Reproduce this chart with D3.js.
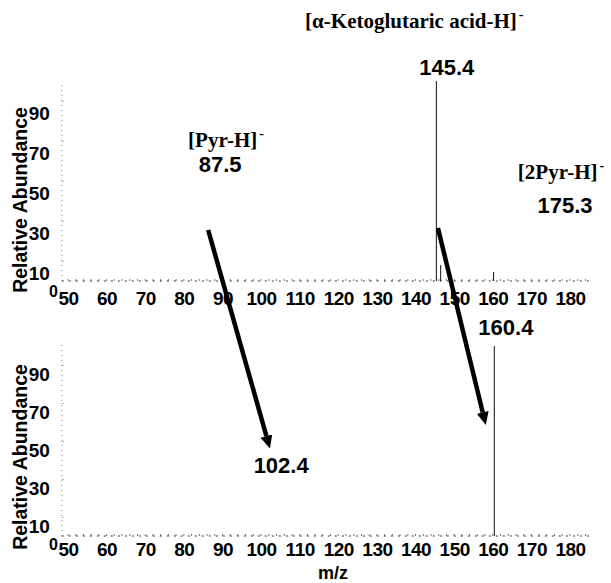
<!DOCTYPE html>
<html><head><meta charset="utf-8">
<script src="https://cdn.jsdelivr.net/npm/d3@7"></script>
<style>body{margin:0;background:#fff}svg{display:block;background:#fff}</style>
</head><body>
<svg id="c" width="611" height="583"></svg>
<script>
// ---- data ----
const xTickValues = [50,60,70,80,90,100,110,120,130,140,150,160,170,180];
const yTickValues = [10,30,50,70,90];
// top spectrum
const topMz        = [145.4, 146.5, 160.2];
const topAbundance = [100,   8,     4.5];
// bottom spectrum
const bottomMz        = [160.4];
const bottomAbundance = [100];
// numeric annotations
const annTexts   = ["145.4", "87.5", "175.3", "102.4", "160.4"];
const annMz      = [148.1,   89.4,   178.7,   105.2,   163.4];
const annAb      = [102.8,   54.5,   34,      33.2,    105.8];
const annPanel   = ["top",   "top",  "top",   "bottom","bottom"];
// ion labels (top panel)
const ionTexts   = ["[α-Ketoglutaric acid-H]", "[Pyr-H]", "[2Pyr-H]"];
const ionMz      = [111.4, 81.1, 166.5];
const ionAb      = [126.5, 67,   51];
// arrows: start in top panel, end in bottom panel
const arrowFromMz = [86.3, 145.8];
const arrowFromAb = [25.5, 26.5];
const arrowToMz   = [102.3, 158.2];
const arrowToAb   = [46, 58.4];

const svg = d3.select("#c");
const sans = "'Liberation Sans', Arial, Helvetica, sans-serif";
const serif = "'Liberation Serif', 'Times New Roman', serif";

const x = d3.scaleLinear().domain([50,180]).range([68,570]);
const xExtent = [48.4, 185.2];

const panels = {
  top:    {y: d3.scaleLinear().domain([0,100]).range([281,81]),  axisTop: 99,  tickDy: 12, xLabelY: 298, zeroDy: 10, titleY: 200, mz: topMz, ab: topAbundance},
  bottom: {y: d3.scaleLinear().domain([0,100]).range([536,346]), axisTop: 102, tickDy: 9,  xLabelY: 549, zeroDy: 8,  titleY: 457, mz: bottomMz, ab: bottomAbundance}
};

Object.values(panels).forEach(p => {
  const y = p.y;
  const g = svg.append("g");
  g.append("line")
    .attr("x1", x(xExtent[0])).attr("x2", x(xExtent[0]))
    .attr("y1", y(0)).attr("y2", y(p.axisTop))
    .attr("stroke", "#888").attr("stroke-width", 1).attr("stroke-dasharray", "1,4");
  const ya = g.append("g").attr("transform", `translate(${x(xExtent[0])},0)`)
    .call(d3.axisLeft(y).tickValues(yTickValues).tickSize(3).tickPadding(9));
  ya.select(".domain").remove();
  ya.selectAll("line").attr("stroke", "#aaa").attr("x2", 2);
  ya.selectAll("text").attr("y", p.tickDy)
    .style("font-family", sans).style("font-weight", "bold").style("font-size", "19px").attr("fill", "#000");
  g.append("text").attr("x", x(xExtent[0]) - 4).attr("y", y(0) + p.zeroDy).attr("dy", "0.35em")
    .attr("text-anchor", "end").style("font-family", sans).style("font-weight", "bold").style("font-size", "16px").text("0");
  g.append("line")
    .attr("x1", x(xExtent[0])).attr("x2", x(xExtent[1]))
    .attr("y1", y(0)).attr("y2", y(0))
    .attr("stroke", "#333").attr("stroke-width", 1).attr("stroke-dasharray", "2,5");
  g.selectAll(".mt").data(d3.range(50, 185, 2)).join("line")
    .attr("x1", d => x(d)).attr("x2", d => x(d))
    .attr("y1", y(0)).attr("y2", y(0) - 2)
    .attr("stroke", "#555").attr("stroke-width", 0.8);
  const xa = g.append("g").attr("transform", `translate(0,${p.xLabelY})`)
    .call(d3.axisBottom(x).tickValues(xTickValues).tickSize(0));
  xa.select(".domain").remove();
  xa.selectAll("text").attr("y", 0).attr("dy", "0.36em")
    .style("font-family", sans).style("font-weight", "bold").style("font-size", "19px")
    .style("letter-spacing", "-0.5px").attr("fill", "#000");
  g.selectAll(".pk").data(p.mz.map((m, i) => [m, p.ab[i]])).join("line")
    .attr("x1", d => x(d[0])).attr("x2", d => x(d[0]))
    .attr("y1", y(0)).attr("y2", d => y(d[1]))
    .attr("stroke", "#222").attr("stroke-width", 1.1);
  g.append("text")
    .attr("transform", `translate(27,${p.titleY}) rotate(-90)`)
    .attr("text-anchor", "middle")
    .style("font-family", sans).style("font-weight", "bold").style("font-size", "19.5px")
    .text("Relative Abundance");
});

svg.append("text").attr("x", x(118.6)).attr("y", 579).attr("text-anchor", "middle")
  .style("font-family", sans).style("font-weight", "bold").style("font-size", "18px").text("m/z");

annTexts.forEach((t, i) => {
  const p = panels[annPanel[i]];
  svg.append("text").attr("x", x(annMz[i])).attr("y", p.y(annAb[i]))
    .attr("text-anchor", "middle")
    .style("font-family", sans).style("font-weight", "bold").style("font-size", "22px")
    .text(t);
});

ionTexts.forEach((t, i) => {
  const tx = svg.append("text").attr("x", x(ionMz[i])).attr("y", panels.top.y(ionAb[i]))
    .style("font-family", serif).style("font-weight", "bold").style("font-size", "21px");
  tx.append("tspan").text(t);
  tx.append("tspan").attr("dy", -9).attr("dx", 2).style("font-size", "14px").text("-");
});

const defs = svg.append("defs");
defs.append("marker").attr("id", "ah")
  .attr("viewBox", "0 -6 13 12").attr("refX", 0).attr("refY", 0)
  .attr("markerUnits", "userSpaceOnUse").attr("markerWidth", 13).attr("markerHeight", 12)
  .attr("orient", "auto")
  .append("path").attr("d", "M0,-6L13,0L0,6Z").attr("fill", "#000");

arrowFromMz.forEach((m, i) => {
  const x1 = x(m), y1 = panels.top.y(arrowFromAb[i]);
  const x2 = x(arrowToMz[i]), y2 = panels.bottom.y(arrowToAb[i]);
  const len = Math.hypot(x2 - x1, y2 - y1);
  const ux = (x2 - x1) / len, uy = (y2 - y1) / len;
  svg.append("line")
    .attr("x1", x1).attr("y1", y1)
    .attr("x2", x2 - ux * 13).attr("y2", y2 - uy * 13)
    .attr("stroke", "#000").attr("stroke-width", 4.5)
    .attr("marker-end", "url(#ah)");
});
</script>
</body></html>
